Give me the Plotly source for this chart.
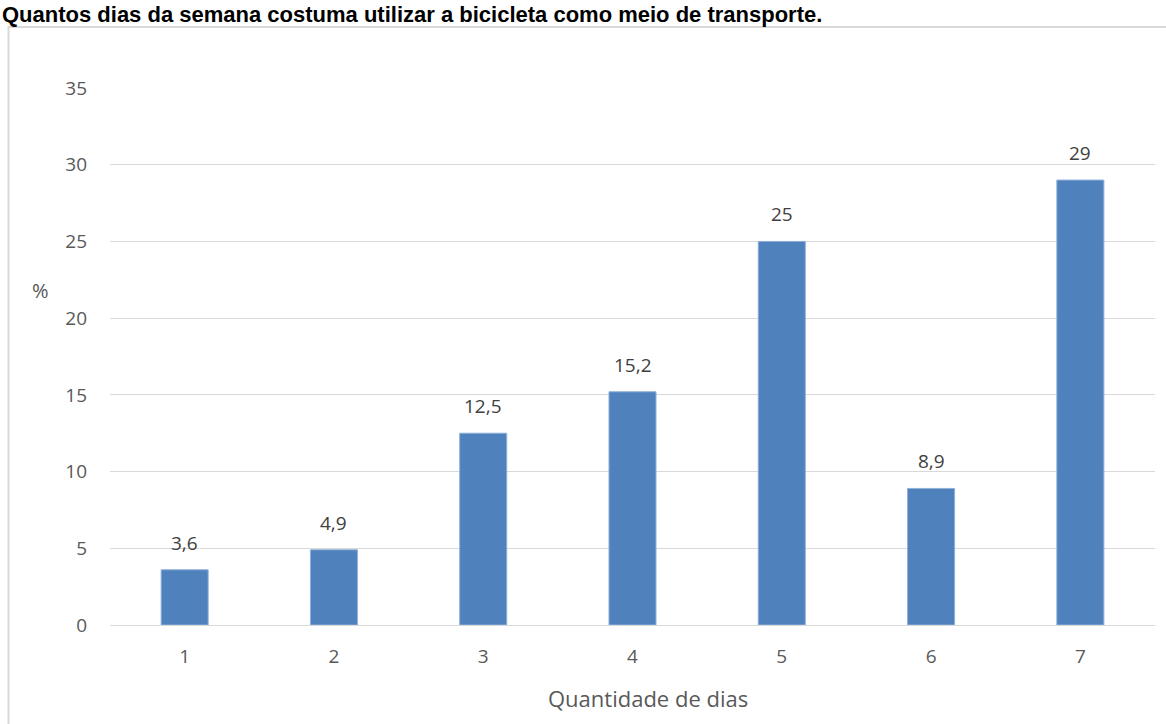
import plotly.graph_objects as go

days = [1, 2, 3, 4, 5, 6, 7]
values = [3.6, 4.9, 12.5, 15.2, 25, 8.9, 29]
value_labels = ["3,6", "4,9", "12,5", "15,2", "25", "8,9", "29"]
y_ticks = [0, 5, 10, 15, 20, 25, 30, 35]

title_text = "Quantos dias da semana costuma utilizar a bicicleta como meio de transporte."
x_title = "Quantidade de dias"
y_title = "%"

W, H = 1166, 724
L, R, T, B = 110, 11, 88, 99
PW, PH = W - L - R, H - T - B

font_family = "Open Sans, Noto Sans, sans-serif"
grey = "#595959"

fig = go.Figure()
fig.add_trace(go.Bar(
    x=days, y=values,
    marker=dict(color="#4F81BD", line=dict(color="#8EB0DA", width=1)),
    width=0.315,
    hoverinfo="x+y",
))

# data labels above the bars
for d, v, lab in zip(days, values, value_labels):
    fig.add_annotation(
        x=d, y=v, text=lab, showarrow=False, xanchor="center", yanchor="bottom",
        yshift=12, font=dict(family=font_family, size=19, color="#404040"),
    )

fig.update_layout(
    width=W, height=H,
    margin=dict(l=L, r=R, t=T, b=B, pad=0),
    paper_bgcolor="white", plot_bgcolor="white",
    showlegend=False,
    font=dict(family=font_family, size=19, color=grey),
    xaxis=dict(
        range=[0.5, 7.5], tickvals=days, ticktext=[str(d) for d in days],
        showgrid=False, zeroline=False, showline=True, linecolor="#d9d9d9", linewidth=1,
        ticks="", ticklabelstandoff=14,
        tickfont=dict(size=19, color=grey),
    ),
    yaxis=dict(
        range=[0, 35], tickvals=y_ticks,
        showgrid=True, gridcolor="#d9d9d9", gridwidth=1,
        zeroline=False, showline=False, ticks="",
        ticklabelstandoff=22,
        tickfont=dict(size=19, color=grey),
    ),
)

# x axis title
fig.add_annotation(
    text=x_title, xref="paper", yref="paper", x=(648 - L) / PW, y=-(698 - (H - B)) / PH,
    showarrow=False, xanchor="center", yanchor="middle",
    font=dict(size=22, color=grey, family=font_family),
)

# "%" axis title, horizontal
fig.add_annotation(
    text=y_title, xref="paper", yref="paper", x=(40 - L) / PW, y=((H - B) - 290) / PH,
    showarrow=False, xanchor="center", yanchor="middle",
    font=dict(size=20, color=grey, family=font_family),
)

# Outer chart border
border_top = 27
fig.add_shape(type="rect", xref="paper", yref="paper",
              x0=(8.5 - L) / PW, x1=1 + (R + 5) / PW,
              y0=-(B + 5) / PH, y1=1 + (T - border_top) / PH,
              line=dict(color="#d9d9d9", width=2), fillcolor="rgba(0,0,0,0)",
              layer="below")

# Title at the very top
fig.add_annotation(
    text="<b>" + title_text + "</b>", xref="paper", yref="paper",
    x=(0 - L) / PW, y=1 + (T - 0) / PH,
    xanchor="left", yanchor="top", showarrow=False,
    font=dict(family="Liberation Sans, Arial, sans-serif", size=22, color="#000000"),
)

fig.write_html("out.html", config={"displayModeBar": False},
               post_script="document.body.style.margin='0';")
